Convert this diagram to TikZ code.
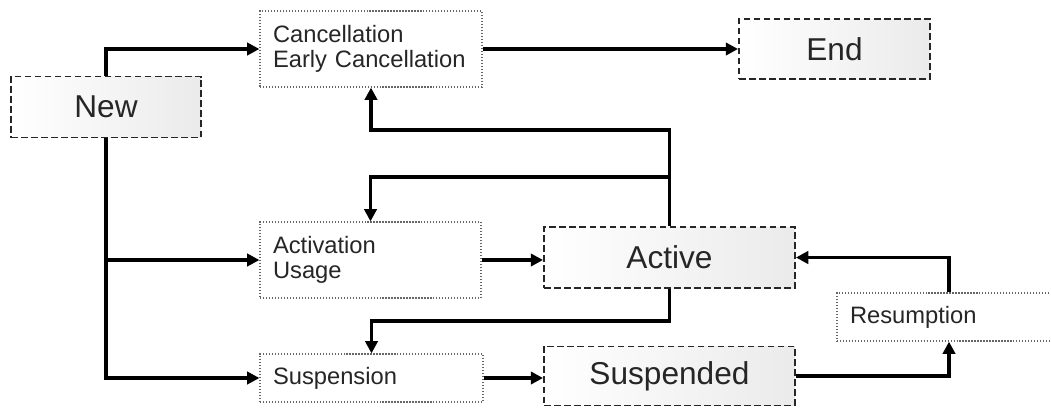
\documentclass[tikz,border=0pt]{standalone}
\usepackage{fontspec}
\setmainfont{Liberation Sans}
\usetikzlibrary{arrows.meta}

\definecolor{inkgray}{HTML}{262626}

\tikzset{
    state/.style={draw=inkgray, line width=1.1pt, dash pattern=on 3.8pt off 1.9pt,
        left color=white, right color=black!8, text=inkgray,
        inner sep=0pt, font=\fontsize{18}{20}\selectfont},
    action/.style={draw=black!60, line width=0.7pt, densely dotted, fill=white,
        text=inkgray, inner xsep=0.26cm, inner ysep=0pt, align=left,
        font=\fontsize{13.5}{14}\selectfont},
    flow/.style={line width=1.9pt, -{Triangle[length=7pt,width=7pt]}},
}

\begin{document}
\begin{tikzpicture}[x=0.02cm, y=-0.02cm]
    \useasboundingbox (0, 0) rectangle (1051, 407);

    % states
    \node[state, minimum width=3.8cm, minimum height=1.22cm] (new) at (106, 107) {New};
    \node[state, minimum width=3.82cm, minimum height=1.2cm] (end) at (834.5, 49) {End};
    \node[state, minimum width=5.02cm, minimum height=1.22cm] (active) at (669.5, 257.5) {Active};
    \node[state, minimum width=5.02cm, minimum height=1.18cm] (suspended) at (669.5, 376) {Suspended};

    % actions
    \node[action, text width=3.92cm, minimum height=1.52cm] (cancel) at (371, 49)
        {Cancellation\\Early Cancellation};
    \node[action, text width=3.9cm, minimum height=1.52cm] (activation) at (370.5, 260)
        {Activation\\Usage};
    \node[action, text width=3.94cm, minimum height=0.96cm] (suspension) at (371.5, 378)
        {Suspension};
    \node[action, text width=3.96cm, minimum height=0.96cm] (resumption) at (949, 317)
        {Resumption};

    \coordinate (top) at (0, 130);
    \coordinate (mid) at (0, 177);
    \coordinate (low) at (0, 321);

    \draw[flow] (new.north) |- (cancel.west);
    \draw[flow] (cancel.east) -- (end.west);
    \draw[flow] (new.south) |- (suspension.west);
    \draw[flow] (new.south |- activation.west) -- (activation.west);
    \draw[flow] (activation.east) -- (activation.east -| active.west);
    \draw[flow] (active.north) -- (active.north |- top) -| (cancel.south);
    \draw[flow] (active.north |- mid) -| (activation.north);
    \draw[flow] (active.south) -- (active.south |- low) -| (suspension.north);
    \draw[flow] (suspension.east) -- (suspension.east -| suspended.west);
    \draw[flow] (suspended.east) -| (resumption.south);
    \draw[flow] (resumption.north) |- (active.east);
\end{tikzpicture}
\end{document}
